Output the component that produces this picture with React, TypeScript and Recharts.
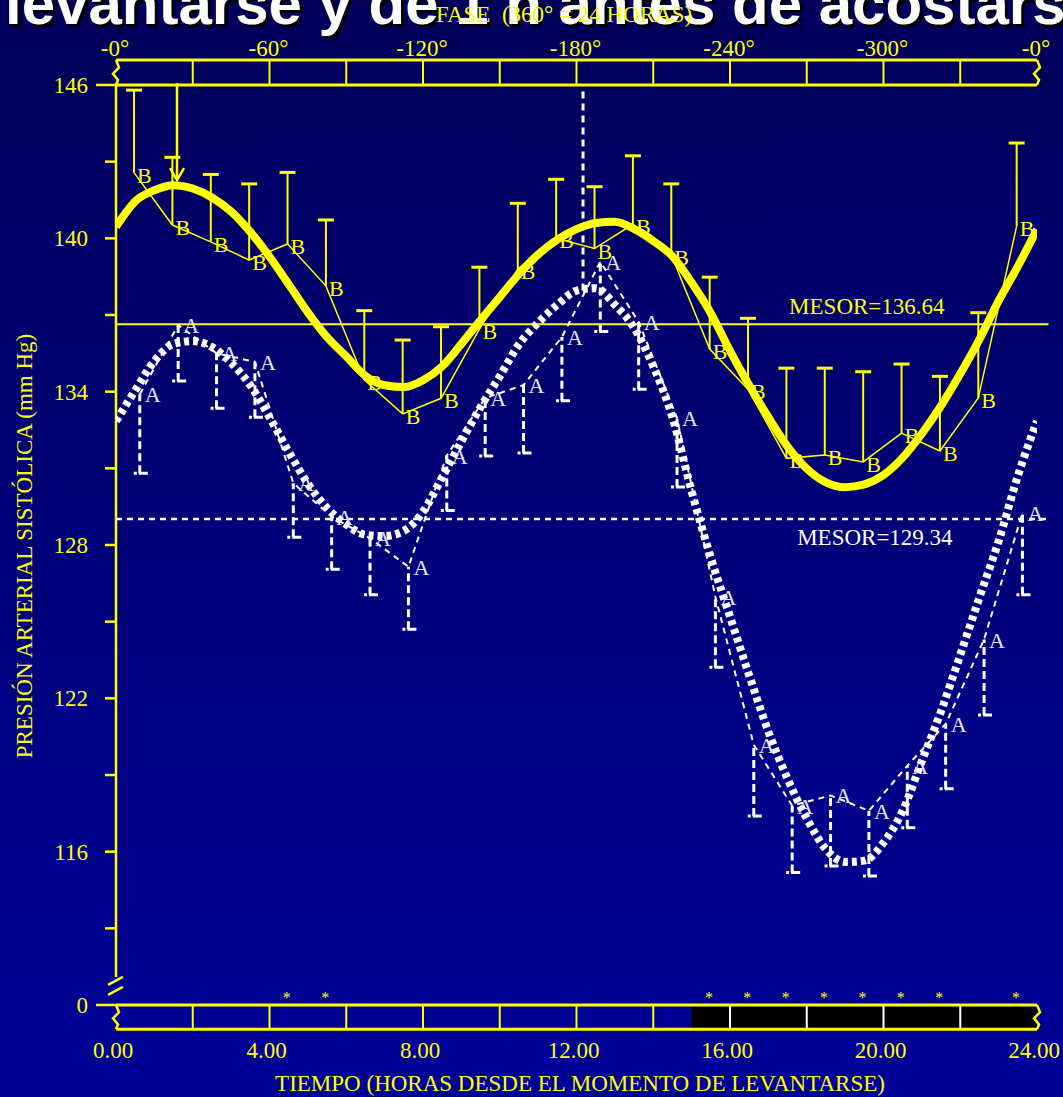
import React from 'react'
import {
  ComposedChart,
  Line,
  Scatter,
  XAxis,
  YAxis,
  ErrorBar,
  LabelList,
  ReferenceLine,
  ReferenceArea,
  ReferenceDot,
} from 'recharts'

const YELLOW = '#ffff00'
const WHITE = '#ffffff'
const LAVENDER = '#e6e6ff'
const SERIF = '"Liberation Serif", "Times New Roman", serif'

// B = yellow group, A = white group (hours since waking)
const hoursB = [0.47, 1.47, 2.47, 3.47, 4.47, 5.47, 6.47, 7.47, 8.47, 9.47, 10.47, 11.47, 12.47, 13.47, 14.47, 15.47, 16.47, 17.47, 18.47, 19.47, 20.47, 21.47, 22.47, 23.47]
const meanB = [142.57, 140.52, 139.86, 139.15, 139.78, 138.14, 134.46, 133.13, 133.74, 136.45, 138.8, 140.0, 139.6, 140.55, 139.35, 135.67, 134.1, 131.39, 131.52, 131.25, 132.38, 131.68, 133.75, 140.48]
const upperB = [145.8, 143.17, 142.5, 142.13, 142.58, 140.72, 137.17, 136.02, 136.54, 138.87, 141.37, 142.31, 142.02, 143.23, 142.13, 138.48, 136.87, 134.92, 134.92, 134.78, 135.08, 134.6, 137.09, 143.73]

const hoursA = [0.62, 1.62, 2.62, 3.62, 4.62, 5.62, 6.62, 7.62, 8.62, 9.62, 10.62, 11.62, 12.62, 13.62, 14.62, 15.62, 16.62, 17.62, 18.62, 19.62, 20.62, 21.62, 22.62, 23.62]
const meanA = [133.9, 136.61, 135.5, 135.17, 130.42, 129.11, 128.26, 127.15, 131.5, 133.75, 134.26, 136.14, 139.08, 136.73, 132.97, 125.97, 120.18, 117.8, 118.2, 117.6, 119.36, 121.0, 124.3, 129.25]
const lowerA = [130.81, 134.42, 133.35, 133.0, 128.3, 127.05, 126.05, 124.7, 129.35, 131.48, 131.6, 133.64, 136.35, 134.09, 130.27, 123.22, 117.4, 115.18, 115.44, 115.05, 116.94, 118.46, 121.35, 126.05]

// fitted cosinor curves
const fitHours = [0, 0.5, 1, 1.5, 2, 2.5, 3, 3.5, 4, 4.5, 5, 5.5, 6, 6.5, 7, 7.5, 8, 8.5, 9, 9.5, 10, 10.5, 11, 11.5, 12, 12.5, 13, 13.5, 14, 14.5, 15, 15.5, 16, 16.5, 17, 17.5, 18, 18.5, 19, 19.5, 20, 20.5, 21, 21.5, 22, 22.5, 23, 23.5, 24]
const fitB = [140.45, 141.45, 141.88, 142.08, 141.95, 141.6, 141.05, 140.25, 139.28, 138.2, 137.1, 136.13, 135.38, 134.62, 134.25, 134.18, 134.45, 134.99, 135.87, 136.8, 137.7, 138.6, 139.37, 139.95, 140.36, 140.6, 140.65, 140.37, 139.9, 139.3, 138.27, 137.07, 135.6, 134.25, 133.0, 131.85, 130.99, 130.45, 130.26, 130.37, 130.74, 131.42, 132.36, 133.45, 134.7, 136.05, 137.55, 138.9, 140.35]
const fitA = [132.85, 134.05, 135.2, 135.87, 135.98, 135.75, 135.13, 134.25, 133.0, 131.65, 130.4, 129.45, 128.8, 128.4, 128.35, 128.55, 129.3, 130.65, 132.05, 133.4, 134.6, 135.85, 136.7, 137.4, 137.95, 138.05, 137.4, 136.5, 135.0, 133.0, 130.1, 127.5, 125.2, 122.9, 120.7, 118.85, 117.3, 116.1, 115.6, 115.65, 116.35, 117.6, 119.55, 121.5, 123.7, 125.95, 128.15, 130.7, 132.85]

const mesorB = 136.64
const mesorA = 129.34
const mesorALineAt = 129.02
const acrophaseB = 1.59
const acrophaseA = 12.17

const timeTicks = [0, 4, 8, 12, 16, 20, 24]
const dividerHours = [2, 4, 6, 8, 10, 12, 14, 16, 18, 20, 22]
const yTicks = [110, 113, 116, 119, 122, 125, 128, 131, 134, 137, 140, 143, 146]
const yLabels: Record<number, string> = { 110: '0', 116: '116', 122: '122', 128: '128', 134: '134', 140: '140', 146: '146' }
const starHours = [4.45, 5.45, 15.45, 16.45, 17.45, 18.45, 19.45, 20.45, 21.45, 23.45]
const sleepStart = 15

const Y_MIN = 110
const Y_MAX = 146
const PHASE_TOP = 146.98
const BAR_BOTTOM = 109.05
const AXIS_BREAK = 111.1

const rowsB = hoursB.map((h, i) => ({ h, v: meanB[i], top: upperB[i], err: [0, upperB[i] - meanB[i]] }))
const rowsA = hoursA.map((h, i) => ({ h, v: meanA[i], bottom: lowerA[i], err: [meanA[i] - lowerA[i], 0] }))
const rowsFit = fitHours.map((h, i) => ({ h, b: fitB[i], a: fitA[i] }))

function squiggle(x: number, y: number, h: number) {
  return `M${x},${y} L${x + 3},${y + h * 0.3} L${x - 3},${y + h * 0.55} L${x + 2},${y + h * 0.8} L${x},${y + h}`
}

function BarFrame(props: any) {
  const { x, y, width, height } = props
  return (
    <g>
      <line x1={x} x2={x + width} y1={y} y2={y} stroke={YELLOW} strokeWidth={3} />
      <line x1={x} x2={x + width} y1={y + height} y2={y + height} stroke={YELLOW} strokeWidth={3} />
      <path d={squiggle(x, y, height)} stroke={YELLOW} strokeWidth={2.5} fill="none" />
      <path d={squiggle(x + width, y, height)} stroke={YELLOW} strokeWidth={2.5} fill="none" />
    </g>
  )
}

function YTick(props: any) {
  const { x, y, payload } = props
  const v = payload.value
  const len = v === Y_MAX || v === Y_MIN ? 20 : 11
  const label = yLabels[v]
  return (
    <g>
      <line x1={x - len} x2={x} y1={y} y2={y} stroke={YELLOW} strokeWidth={2.5} />
      {label !== undefined && (
        <text x={x - 28} y={y + 8} textAnchor="end" fill={YELLOW} fontSize={23} fontFamily={SERIF}>
          {label}
        </text>
      )}
    </g>
  )
}

function TimeTick(props: any) {
  const { x, y, payload } = props
  return (
    <text x={x - 3} y={y + 53} textAnchor="middle" fill={YELLOW} fontSize={23} fontFamily={SERIF}>
      {Number(payload.value).toFixed(2)}
    </text>
  )
}

function PhaseTick(props: any) {
  const { x, y, payload } = props
  const h = Number(payload.value)
  const deg = h === 24 ? '-0°' : `-${h * 15}°`
  return (
    <text x={x - 1} y={y - 29} textAnchor="middle" fill={YELLOW} fontSize={23} fontFamily={SERIF}>
      {deg}
    </text>
  )
}

const capB = (p: any) => (
  <line x1={p.cx - 8} x2={p.cx + 8} y1={p.cy} y2={p.cy} stroke={YELLOW} strokeWidth={3} />
)
const capA = (p: any) => (
  <line x1={p.cx - 6} x2={p.cx + 8} y1={p.cy} y2={p.cy} stroke={WHITE} strokeWidth={3} strokeDasharray="3 2 9" />
)

const labelB = (p: any) => (
  <text x={p.x + 3} y={p.y + 10} fill={YELLOW} fontSize={22} fontFamily={SERIF}>B</text>
)
const labelA = (p: any) => (
  <text x={p.x + 5} y={p.y + 8} fill={LAVENDER} fontSize={22} fontFamily={SERIF}>A</text>
)

const star = (p: any) => (
  <text x={p.cx} y={p.cy - 2} textAnchor="middle" fill={YELLOW} fontSize={16} fontFamily={SERIF}>*</text>
)
const axisBreak = (p: any) => (
  <g stroke={YELLOW} strokeWidth={2.5}>
    <line x1={p.cx - 8} y1={p.cy - 1} x2={p.cx + 7} y2={p.cy - 9} />
    <line x1={p.cx - 8} y1={p.cy + 9} x2={p.cx + 7} y2={p.cy + 1} />
  </g>
)
const arrowHead = (p: any) => (
  <path d={`M${p.cx - 7},${p.cy - 12} L${p.cx},${p.cy} L${p.cx + 7},${p.cy - 12}`} stroke={YELLOW} strokeWidth={2.5} fill="none" />
)
const mesorText = (text: string, color: string, dy: number) => (p: any) => (
  <text x={p.cx} y={p.cy + dy} fill={color} fontSize={23} fontFamily={SERIF}>{text}</text>
)

export default function App() {
  return (
    <div
      style={{
        position: 'absolute',
        left: 0,
        top: 0,
        width: 1063,
        height: 1097,
        overflow: 'hidden',
        background: 'linear-gradient(to bottom, #00005a, #000099)',
      }}
    >
      <ComposedChart width={1063} height={1097} margin={{ top: 84, right: 26, bottom: 91, left: 115 }}>
        <XAxis
          type="number"
          dataKey="h"
          domain={[0, 24]}
          ticks={timeTicks}
          interval={0}
          height={1}
          axisLine={false}
          tickLine={false}
          tickSize={0}
          tickMargin={0}
          tick={<TimeTick />}
          allowDataOverflow
        />
        <XAxis
          xAxisId="phase"
          orientation="top"
          type="number"
          dataKey="h"
          domain={[0, 24]}
          ticks={timeTicks}
          interval={0}
          height={1}
          axisLine={false}
          tickLine={false}
          tickSize={0}
          tickMargin={0}
          tick={<PhaseTick />}
          allowDataOverflow
        />
        <YAxis
          type="number"
          domain={[Y_MIN, Y_MAX]}
          ticks={yTicks}
          interval={0}
          width={1}
          axisLine={false}
          tickLine={false}
          tickSize={0}
          tickMargin={0}
          tick={<YTick />}
          allowDataOverflow
        />

        {/* phase bar on top, light/dark bar at the bottom */}
        <ReferenceArea x1={sleepStart} x2={24} y1={BAR_BOTTOM} y2={Y_MIN} fill="#000000" fillOpacity={1} stroke="none" ifOverflow="visible" />
        <ReferenceArea x1={0} x2={24} y1={Y_MAX} y2={PHASE_TOP} ifOverflow="visible" shape={<BarFrame />} />
        <ReferenceArea x1={0} x2={24} y1={BAR_BOTTOM} y2={Y_MIN} ifOverflow="visible" shape={<BarFrame />} />
        {dividerHours.map((h) => (
          <ReferenceLine key={`t${h}`} segment={[{ x: h, y: Y_MAX }, { x: h, y: PHASE_TOP }]} stroke={YELLOW} strokeWidth={2} ifOverflow="visible" />
        ))}
        {dividerHours.map((h) => (
          <ReferenceLine key={`b${h}`} segment={[{ x: h, y: BAR_BOTTOM }, { x: h, y: Y_MIN }]} stroke={h > sleepStart ? WHITE : YELLOW} strokeWidth={2} ifOverflow="visible" />
        ))}
        {starHours.map((h) => (
          <ReferenceDot key={`s${h}`} x={h} y={Y_MIN} r={0} shape={star} ifOverflow="visible" />
        ))}

        {/* broken y axis */}
        <ReferenceLine segment={[{ x: 0, y: Y_MAX }, { x: 0, y: AXIS_BREAK }]} stroke={YELLOW} strokeWidth={2.5} ifOverflow="visible" />
        <ReferenceDot x={0} y={110.75} r={0} shape={axisBreak} ifOverflow="visible" />

        {/* mesor lines */}
        <ReferenceLine segment={[{ x: 0, y: mesorB }, { x: 24.3, y: mesorB }]} stroke={YELLOW} strokeWidth={2} ifOverflow="visible" />
        <ReferenceLine segment={[{ x: 0, y: mesorALineAt }, { x: 24.3, y: mesorALineAt }]} stroke={WHITE} strokeWidth={2.5} strokeDasharray="6 5" ifOverflow="visible" />
        <ReferenceDot x={17.54} y={mesorB} r={0} shape={mesorText(`MESOR=${mesorB.toFixed(2)}`, YELLOW, -10)} ifOverflow="visible" />
        <ReferenceDot x={17.75} y={mesorALineAt} r={0} shape={mesorText(`MESOR=${mesorA.toFixed(2)}`, WHITE, 26)} ifOverflow="visible" />

        {/* acrophase markers */}
        <ReferenceLine segment={[{ x: acrophaseA, y: 145.75 }, { x: acrophaseA, y: 137.75 }]} stroke={WHITE} strokeWidth={3} strokeDasharray="7 5" ifOverflow="visible" />
        <ReferenceLine segment={[{ x: acrophaseB, y: 146.07 }, { x: acrophaseB, y: 142.28 }]} stroke={YELLOW} strokeWidth={2.5} ifOverflow="visible" />
        <ReferenceDot x={acrophaseB} y={142.28} r={0} shape={arrowHead} ifOverflow="visible" />

        {/* group A: dashed white */}
        <Line data={rowsA} dataKey="v" type="linear" stroke={WHITE} strokeWidth={2} strokeDasharray="6 5" dot={false} isAnimationActive={false}>
          <ErrorBar dataKey="err" direction="y" width={0} stroke={WHITE} strokeWidth={3} strokeDasharray="8 4" isAnimationActive={false} />
          <LabelList content={labelA} />
        </Line>
        <Scatter data={rowsA} dataKey="bottom" shape={capA} isAnimationActive={false} />

        {/* group B: solid yellow */}
        <Line data={rowsB} dataKey="v" type="linear" stroke={YELLOW} strokeWidth={1.5} dot={false} isAnimationActive={false}>
          <ErrorBar dataKey="err" direction="y" width={0} stroke={YELLOW} strokeWidth={2} isAnimationActive={false} />
          <LabelList content={labelB} />
        </Line>
        <Scatter data={rowsB} dataKey="top" shape={capB} isAnimationActive={false} />

        {/* fitted curves */}
        <Line data={rowsFit} dataKey="a" type="monotone" stroke={WHITE} strokeWidth={8} strokeDasharray="5 4" dot={false} isAnimationActive={false} />
        <Line data={rowsFit} dataKey="b" type="monotone" stroke={YELLOW} strokeWidth={8} dot={false} isAnimationActive={false} />
      </ComposedChart>

      <svg width={1063} height={1097} style={{ position: 'absolute', left: 0, top: 0, pointerEvents: 'none' }}>
        <g fontFamily='"Liberation Sans", Arial, sans-serif' fontWeight="bold" fontSize={60}>
          <text x={8} y={27} fill="#000000">levantarse y de 1 h antes de acostarse</text>
          <text x={5} y={24} fill={WHITE}>levantarse y de 1 h antes de acostarse</text>
        </g>
        <text x={564} y={22} textAnchor="middle" fill={YELLOW} fontSize={23} fontFamily={SERIF} style={{ whiteSpace: 'pre' }}>
          {'FASE  (360° = 24 HORAS)'}
        </text>
        <text x={32} y={546} transform="rotate(-90 32 546)" textAnchor="middle" fill={YELLOW} fontSize={23} fontFamily={SERIF}>
          PRESIÓN ARTERIAL SISTÓLICA (mm Hg)
        </text>
        <text x={580} y={1091} textAnchor="middle" fill={YELLOW} fontSize={23} fontFamily={SERIF}>
          TIEMPO (HORAS DESDE EL MOMENTO DE LEVANTARSE)
        </text>
      </svg>
    </div>
  )
}
